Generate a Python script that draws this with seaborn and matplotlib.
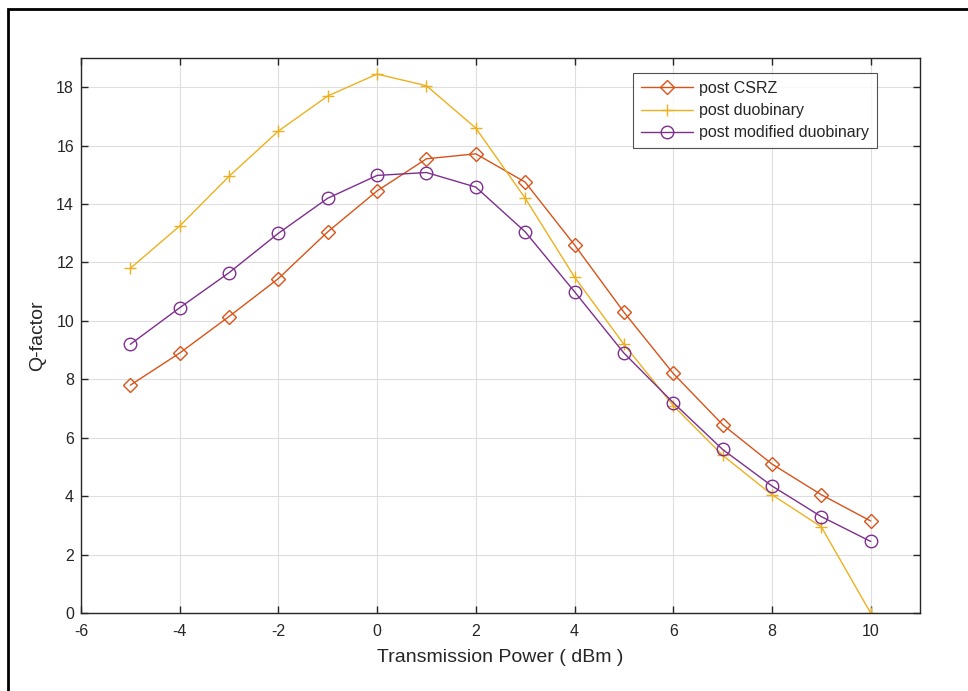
import seaborn as sns
import matplotlib.pyplot as plt
import matplotlib.patches as patches
import pandas as pd

power = list(range(-5, 11))
csrz = [7.8, 8.9, 10.15, 11.45, 13.05, 14.45, 15.55, 15.72, 14.75, 12.6, 10.3, 8.2, 6.45, 5.1, 4.05, 3.15]
duobinary = [11.8, 13.25, 14.95, 16.5, 17.7, 18.45, 18.05, 16.6, 14.2, 11.5, 9.2, 7.1, 5.4, 4.05, 2.95, 0.0]
mod_duobinary = [9.2, 10.45, 11.65, 13.0, 14.2, 14.98, 15.08, 14.58, 13.05, 11.0, 8.9, 7.2, 5.6, 4.35, 3.3, 2.45]

series = {
    'post CSRZ': csrz,
    'post duobinary': duobinary,
    'post modified duobinary': mod_duobinary,
}
colors = {'post CSRZ': '#D95319', 'post duobinary': '#EDB120', 'post modified duobinary': '#7E2F8E'}
markers = {'post CSRZ': 'D', 'post duobinary': '+', 'post modified duobinary': 'o'}
msizes = {'post CSRZ': 7, 'post duobinary': 9, 'post modified duobinary': 9}

data = pd.DataFrame({
    'Power': power * 3,
    'Q': csrz + duobinary + mod_duobinary,
    'Method': [k for k in series for _ in power],
})

sns.set_theme(style="white")
plt.rcParams['font.family'] = ['Liberation Sans', 'DejaVu Sans']
plt.rcParams['axes.unicode_minus'] = False

fig = plt.figure(figsize=(9.68, 6.91), dpi=100)
ax = fig.add_axes([81 / 968, 1 - 613 / 691, (920 - 81) / 968, (613 - 58) / 691])

for name in series:
    sub = data[data['Method'] == name]
    sns.lineplot(
        data=sub, x='Power', y='Q', ax=ax, color=colors[name],
        marker=markers[name], markersize=msizes[name], mfc='none',
        mec=colors[name], mew=1.0, linewidth=1.0, label=name,
    )

ax.set_xlim(-6, 11)
ax.set_ylim(0, 19)
ax.set_xticks(range(-6, 11, 2))
ax.set_yticks(range(0, 19, 2))
ax.grid(True, color='#dedede', linewidth=0.8)
ax.tick_params(direction='in', length=5, width=1, colors='#262626', labelsize=11.5,
               top=True, right=True, bottom=True, left=True, labelcolor='#262626')
ax.tick_params(axis='x', pad=8)
ax.tick_params(axis='y', pad=5)
for sp in ax.spines.values():
    sp.set_color('#262626')
    sp.set_linewidth(1.0)

ax.set_xlabel('Transmission Power ( dBm )', fontsize=14, color='#262626')
ax.set_ylabel('Q-factor', fontsize=14, color='#262626')
ax.xaxis.set_label_coords(0.5, (613 - 658) / 555)
ax.xaxis.label.set_va('center')
ax.yaxis.set_label_coords((38 - 81) / 839, 0.5)
ax.yaxis.label.set_va('center')

leg = ax.legend(loc='upper right', bbox_to_anchor=((877 - 81) / 839, 1 - 15 / 555),
                borderaxespad=0, fontsize=11.5, frameon=True, fancybox=False,
                handlelength=3.3, handletextpad=0.35, borderpad=0.5,
                labelspacing=0.45)
leg.get_frame().set_edgecolor('#262626')
leg.get_frame().set_linewidth(0.8)

border = patches.Rectangle((8 / 968, -0.05), 1.1, 1 - 9 / 691 + 0.05, transform=fig.transFigure,
                           fill=False, edgecolor='black', linewidth=2, clip_on=False)
fig.patches.append(border)

fig.savefig('out.png', dpi=100)
